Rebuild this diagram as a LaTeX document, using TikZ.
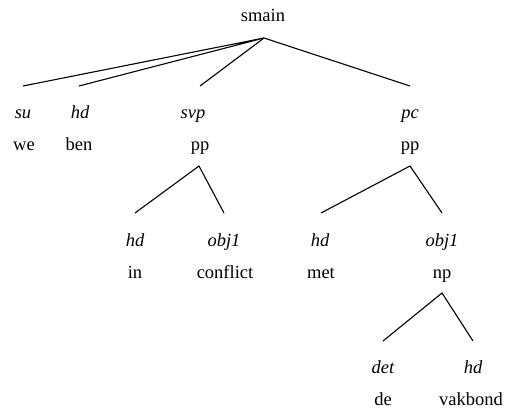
\documentclass[tikz,border=0pt]{standalone}
\usepackage{fontspec}
\setmainfont{Liberation Serif}
\begin{document}
\begin{tikzpicture}[x=1pt,y=-1pt,
  cat/.style={anchor=base,inner sep=0pt,font=\fontsize{18.5}{20}\selectfont},
  rel/.style={anchor=base,inner sep=0pt,font=\fontsize{18.5}{20}\selectfont\itshape},
  edge/.style={line width=1.1pt}]
\useasboundingbox (0,0) rectangle (505,409);
% top
\node[cat] (smain) at (263,22) {smain};
\coordinate (smainTop) at (264,38);
\coordinate (suE) at (23,86);
\coordinate (hdE) at (79,86);
\coordinate (svpE) at (200,86);
\coordinate (pcE) at (410,86);
\node[rel] (su) at (23,118) {su};
\node[cat] (we) at (24,150) {we};
\node[rel] (hd1) at (80,118) {hd};
\node[cat] (ben) at (79,150) {ben};
\node[rel] (svp) at (193,118) {svp};
\node[cat] (pp1) at (200,150) {pp};
\node[rel] (pc) at (410,118) {pc};
\node[cat] (pp2) at (410,150) {pp};
\draw[edge] (suE) -- (smainTop) -- (hdE);
\draw[edge] (svpE) -- (smainTop) -- (pcE);
% pp1
\coordinate (pp1Top) at (199,166);
\coordinate (hd2E) at (135,213);
\coordinate (obj1E) at (224,213);
\draw[edge] (hd2E) -- (pp1Top) -- (obj1E);
\node[rel] (hd2) at (135,246) {hd};
\node[cat] (in) at (135,278) {in};
\node[rel] (obj1a) at (224,246) {obj1};
\node[cat] (conflict) at (225,278) {conflict};
% pp2
\coordinate (pp2Top) at (410,166);
\coordinate (hd3E) at (321,213);
\coordinate (obj2E) at (442,213);
\draw[edge] (hd3E) -- (pp2Top) -- (obj2E);
\node[rel] (hd3) at (320,246) {hd};
\node[cat] (met) at (321,278) {met};
\node[rel] (obj1b) at (442,246) {obj1};
\node[cat] (np) at (442,278) {np};
% np
\coordinate (npTop) at (442,293);
\coordinate (detE) at (383,341);
\coordinate (hd4E) at (473,341);
\draw[edge] (detE) -- (npTop) -- (hd4E);
\node[rel] (det) at (383,373) {det};
\node[cat] (de) at (383,405) {de};
\node[rel] (hd4) at (473,373) {hd};
\node[cat] (vakbond) at (471,405) {vakbond};
\end{tikzpicture}
\end{document}
